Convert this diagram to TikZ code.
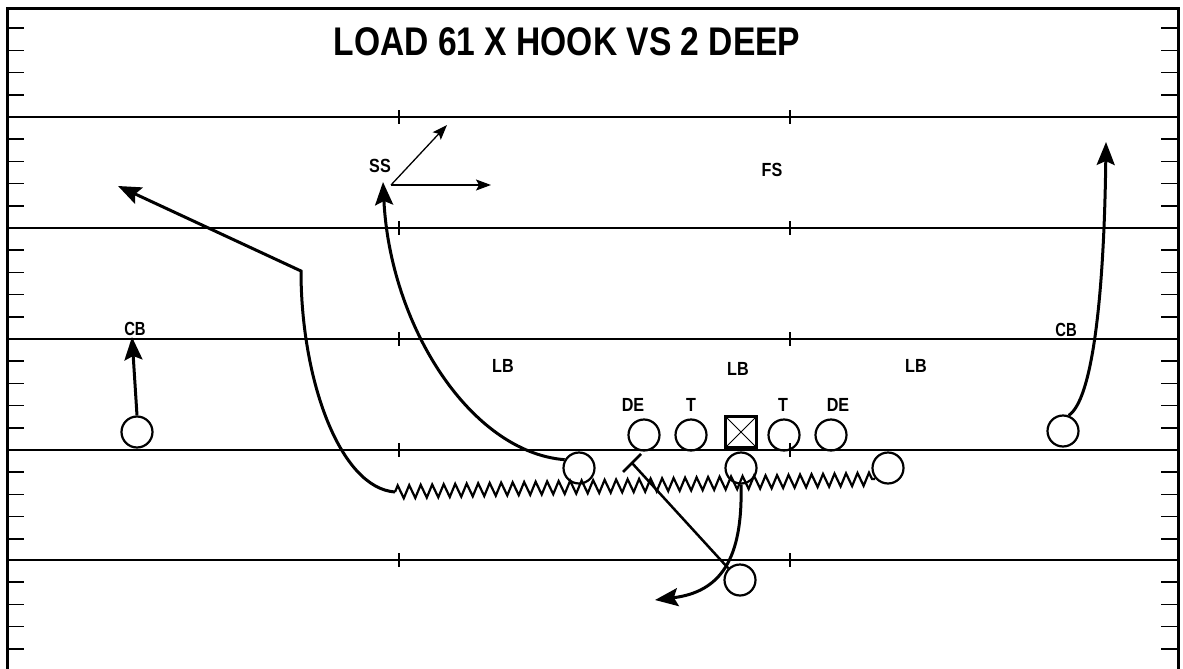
\documentclass[tikz,border=0pt]{standalone}
\usepackage{fontspec}
\setmainfont{Liberation Sans}
\usepackage{graphicx}
\usetikzlibrary{arrows.meta,decorations.pathmorphing}
\begin{document}
\begin{tikzpicture}[x=1pt,y=-1pt,
  frameline/.style={line width=3pt},
  yardline/.style={line width=1.4pt},
  hashmark/.style={line width=1.5pt},
  player/.style={circle,draw,line width=2.2pt,minimum size=31pt,inner sep=0pt},
  centerbox/.style={rectangle,draw,line width=2.8pt,minimum size=31pt,inner sep=0pt,
    path picture={\draw[line width=0.9pt] (path picture bounding box.north west) -- (path picture bounding box.south east)
      (path picture bounding box.north east) -- (path picture bounding box.south west);}},
  lab/.style={font=\fontsize{19}{19}\selectfont\bfseries,inner sep=0pt},
  titlestyle/.style={font=\fontsize{40}{40}\selectfont\bfseries,inner sep=0pt},
  route/.style={line width=3pt,line join=miter,-{Stealth[length=23pt,width=18pt,inset=4pt]}},
  thinroute/.style={line width=1.3pt,-{Stealth[length=15pt,width=11pt,inset=3pt]}},
  blockline/.style={line width=2.5pt},
  snake/.style={line width=2.2pt,decorate,decoration={zigzag,segment length=11.5pt,amplitude=6.5pt}}
]
\useasboundingbox (0,0) rectangle (1183,669);
% frame
\draw[frameline] (7,669) -- (7,9) -- (1178,9) -- (1178,669);
% yard lines with ticks
\foreach \yy in {117,228,339,450,560}{
  \draw[yardline] (7,\yy) -- (1178,\yy);
  \draw[yardline] (399,\yy-7) -- (399,\yy+7);
  \draw[yardline] (790,\yy-7) -- (790,\yy+7);
}
% hash marks
\foreach \s in {6,117,228,339,450,560}{
  \foreach \k in {1,2,3,4}{
    \pgfmathsetmacro{\hy}{\s+22.2*\k}
    \draw[hashmark] (8,\hy) -- (24,\hy);
    \draw[hashmark] (1161,\hy) -- (1177,\hy);
  }
}
% title
\node[titlestyle] (title) at (567,42) {\scalebox{0.84}[1]{LOAD 61 X HOOK VS 2 DEEP}};
% defense labels
\node[lab] (ss) at (380,166) {\scalebox{0.85}[1]{SS}};
\node[lab] (fs) at (772,170) {\scalebox{0.85}[1]{FS}};
\node[lab] (cbl) at (135,329) {\scalebox{0.78}[1]{CB}};
\node[lab] (cbr) at (1066,330) {\scalebox{0.78}[1]{CB}};
\node[lab] (lb1) at (503,366) {\scalebox{0.85}[1]{LB}};
\node[lab] (lb2) at (738,369) {\scalebox{0.85}[1]{LB}};
\node[lab] (lb3) at (916,366) {\scalebox{0.85}[1]{LB}};
\node[lab] (de1) at (633,405) {\scalebox{0.85}[1]{DE}};
\node[lab] (t1) at (691,405) {\scalebox{0.85}[1]{T}};
\node[lab] (t2) at (783,405) {\scalebox{0.85}[1]{T}};
\node[lab] (de2) at (838,405) {\scalebox{0.85}[1]{DE}};
% offense
\node[player] (wrl) at (137,432) {};
\node[player] (lt) at (644,435) {};
\node[player] (lg) at (691,435) {};
\node[centerbox] (c) at (741,432) {};
\node[player] (rg) at (784,435) {};
\node[player] (rt) at (831,435) {};
\node[player] (wrr) at (1063,431) {};
\node[player] (sl) at (579,468) {};
\node[player] (qb) at (741,468) {};
\node[player] (te) at (888,468) {};
\node[player] (rb) at (740,580) {};
% free ends
\coordinate (zl) at (395,492);
\coordinate (zr) at (875,479);
\coordinate (bend) at (301,271);
\coordinate (tipx) at (118,186);
\coordinate (tipcb) at (132,337);
\coordinate (tipss) at (383,182);
\coordinate (tipwr) at (1106,142);
\coordinate (tiprb) at (655,600);
\coordinate (blk) at (632,463);
\coordinate (blka) at (623,472);
\coordinate (blkb) at (641,454);
\coordinate (ssorg) at (391,185);
\coordinate (ssup) at (447,125);
\coordinate (ssout) at (491,185);
% routes
\draw[snake] (zl) -- (zr);
\draw[route] (zl) .. controls (340,488) and (301,380) .. (bend) -- (tipx);
\draw[route] (wrl.north) -- (tipcb);
\draw[route] (sl.150) .. controls (470,452) and (390,325) .. (tipss);
\draw[route] (wrr.70) .. controls (1092,400) and (1104,300) .. (tipwr);
\draw[route] (qb.south) .. controls (743,560) and (720,592) .. (tiprb);
\draw[blockline] (rb.135) -- (blk);
\draw[blockline] (blka) -- (blkb);
\draw[thinroute] (ssorg) -- (ssup);
\draw[thinroute] (ssorg) -- (ssout);
\end{tikzpicture}
\end{document}
